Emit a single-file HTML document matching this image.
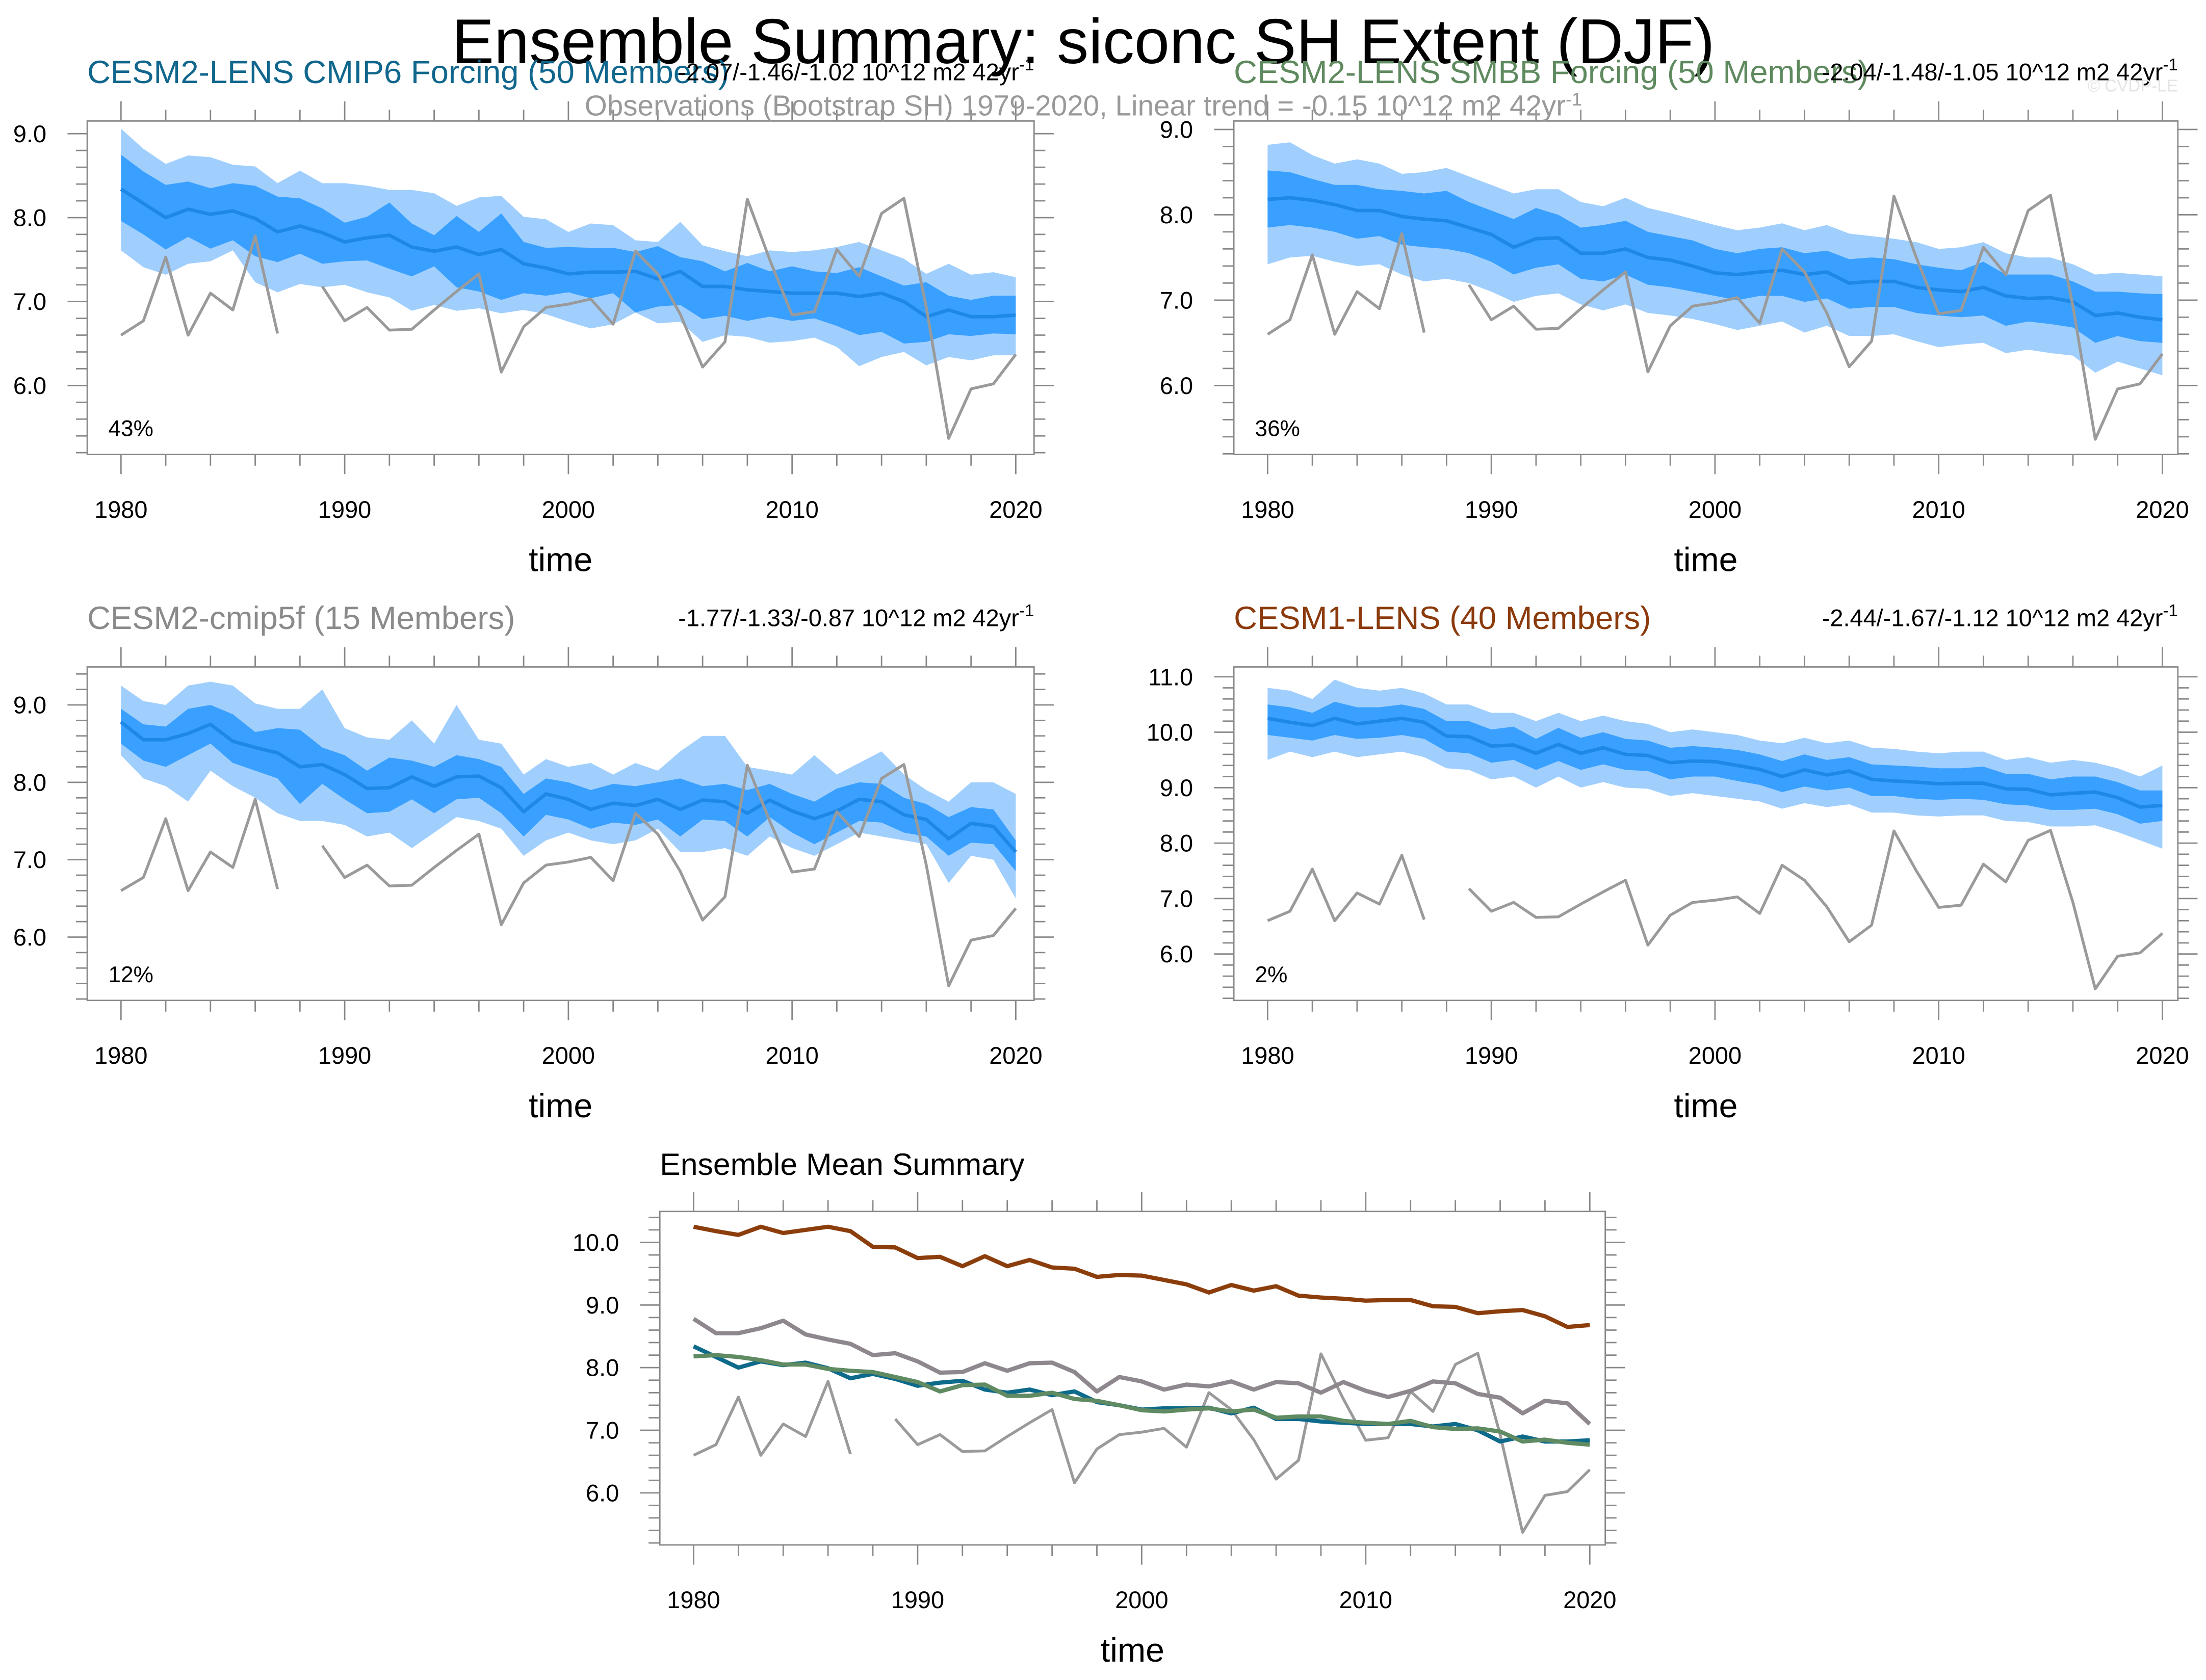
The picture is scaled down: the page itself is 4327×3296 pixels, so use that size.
<!DOCTYPE html>
<html><head><meta charset="utf-8"><style>html,body{margin:0;padding:0;background:#fff}svg{display:block}</style></head>
<body>
<svg id="chart" xmlns="http://www.w3.org/2000/svg" width="4327" height="3296" viewBox="0 0 1568 1194" preserveAspectRatio="none" font-family="Liberation Sans, sans-serif">
<rect width="1568" height="1194" fill="#fff"/>
<text x="770" y="45" font-size="45" text-anchor="middle" fill="#000">Ensemble Summary: siconc SH Extent (DJF)</text>
<g id="panels"></g>
<text x="770" y="82" font-size="20.5" text-anchor="middle" fill="#999">Observations (Bootstrap SH) 1979-2020, Linear trend = -0.15 10^12 m2 42yr<tspan dy="-7" font-size="13">-1</tspan></text>
<text x="1548" y="65" font-size="12" text-anchor="end" fill="#e4e4e4">© CVDP-LE</text>
</svg>
<script>
const years = [];
for (let y = 1980; y <= 2020; y++) years.push(y);
const obs = [6.6,6.77,7.53,6.6,7.1,6.9,7.78,6.62,null,7.18,
 6.77,6.93,6.66,6.67,6.9,7.12,7.33,6.16,6.7,6.93,
 6.97,7.03,6.73,7.6,7.33,6.85,6.22,6.52,8.22,7.5,
 6.84,6.88,7.62,7.3,8.05,8.23,6.93,5.37,5.96,6.02,6.37];
const p1Mean = [8.34,8.17,8.0,8.1,8.04,8.08,7.99,7.83,7.9,7.82,7.71,7.76,7.79,7.65,7.6,7.65,7.56,7.62,7.45,7.4,7.33,7.35,7.35,7.36,7.27,7.36,7.18,7.18,7.14,7.12,7.1,7.1,7.1,7.06,7.1,7.0,6.82,6.9,6.82,6.82,6.84];
const p1DarkHi = [8.75,8.55,8.39,8.43,8.35,8.41,8.38,8.25,8.23,8.11,7.94,8.01,8.18,7.93,7.79,8.02,7.83,8.05,7.71,7.64,7.65,7.64,7.64,7.59,7.66,7.53,7.48,7.36,7.46,7.36,7.42,7.36,7.34,7.41,7.3,7.19,7.23,7.07,7.02,7.07,7.07];
const p1DarkLo = [7.96,7.8,7.62,7.77,7.63,7.73,7.54,7.47,7.57,7.45,7.48,7.49,7.39,7.3,7.42,7.17,7.12,7.02,7.1,7.07,7.11,7.04,7.1,6.87,6.94,6.96,6.79,6.83,6.77,6.82,6.77,6.8,6.71,6.6,6.64,6.5,6.52,6.61,6.59,6.62,6.61];
const p1LightHi = [9.06,8.82,8.64,8.74,8.72,8.63,8.61,8.41,8.56,8.41,8.41,8.38,8.33,8.33,8.29,8.14,8.24,8.26,8.01,7.98,7.83,7.93,7.91,7.73,7.71,7.95,7.67,7.6,7.54,7.61,7.59,7.61,7.65,7.71,7.61,7.51,7.33,7.45,7.32,7.35,7.29];
const p1LightLo = [7.61,7.41,7.32,7.45,7.48,7.61,7.23,7.11,7.21,7.17,7.2,7.11,7.05,6.89,6.96,6.89,6.92,6.86,6.9,6.85,6.76,6.68,6.73,6.87,6.74,6.76,6.52,6.6,6.58,6.51,6.53,6.57,6.46,6.23,6.34,6.4,6.24,6.34,6.3,6.36,6.36];
const p2Mean = [8.18,8.2,8.17,8.12,8.05,8.05,7.98,7.95,7.93,7.85,7.77,7.62,7.72,7.73,7.55,7.55,7.6,7.5,7.47,7.4,7.32,7.3,7.33,7.35,7.3,7.33,7.2,7.22,7.22,7.15,7.12,7.1,7.15,7.05,7.02,7.03,6.98,6.82,6.85,6.8,6.77];
const p2DarkHi = [8.52,8.5,8.42,8.35,8.35,8.3,8.28,8.25,8.28,8.15,8.05,7.95,8.08,8.0,7.85,7.88,7.93,7.8,7.75,7.7,7.6,7.55,7.6,7.62,7.55,7.58,7.48,7.5,7.48,7.42,7.38,7.35,7.45,7.3,7.3,7.3,7.22,7.1,7.1,7.08,7.07];
const p2DarkLo = [7.85,7.88,7.85,7.8,7.72,7.75,7.65,7.62,7.6,7.55,7.45,7.3,7.38,7.42,7.25,7.22,7.3,7.18,7.15,7.1,7.05,7.0,7.05,7.05,6.98,7.02,6.9,6.92,6.92,6.85,6.82,6.8,6.82,6.7,6.75,6.72,6.68,6.5,6.58,6.52,6.5];
const p2LightHi = [8.82,8.85,8.7,8.6,8.65,8.6,8.48,8.5,8.55,8.45,8.35,8.25,8.3,8.3,8.15,8.1,8.2,8.08,8.02,7.95,7.88,7.82,7.85,7.9,7.82,7.88,7.78,7.75,7.72,7.68,7.6,7.62,7.68,7.55,7.5,7.5,7.42,7.3,7.32,7.3,7.28];
const p2LightLo = [7.42,7.5,7.52,7.45,7.4,7.42,7.3,7.22,7.25,7.2,7.1,6.98,7.05,7.08,6.95,6.88,6.95,6.85,6.82,6.78,6.72,6.65,6.7,6.75,6.62,6.7,6.58,6.58,6.6,6.52,6.45,6.48,6.5,6.38,6.42,6.38,6.35,6.15,6.28,6.2,6.12];
const p3Mean = [8.78,8.55,8.55,8.63,8.75,8.53,8.45,8.38,8.2,8.23,8.1,7.92,7.93,8.07,7.95,8.07,8.08,7.93,7.62,7.85,7.78,7.65,7.73,7.7,7.78,7.65,7.77,7.75,7.6,7.77,7.63,7.53,7.63,7.78,7.75,7.58,7.52,7.27,7.47,7.43,7.1];
const p3DarkHi = [8.95,8.75,8.72,8.95,9.0,8.88,8.65,8.7,8.68,8.45,8.35,8.15,8.32,8.28,8.2,8.35,8.3,8.2,7.85,8.05,8.0,7.9,7.98,7.95,8.0,8.05,7.95,7.98,7.9,7.98,7.85,7.75,7.92,8.0,7.98,7.8,7.72,7.55,7.68,7.65,7.25];
const p3DarkLo = [8.5,8.28,8.2,8.35,8.5,8.25,8.15,8.05,7.72,7.98,7.78,7.6,7.62,7.78,7.6,7.78,7.8,7.6,7.3,7.58,7.52,7.4,7.48,7.45,7.52,7.3,7.52,7.5,7.3,7.55,7.35,7.2,7.35,7.5,7.48,7.35,7.3,7.05,7.22,7.2,6.85];
const p3LightHi = [9.25,9.05,9.0,9.25,9.3,9.25,9.02,8.95,8.95,9.2,8.7,8.58,8.55,8.8,8.5,9.0,8.55,8.5,8.1,8.3,8.2,8.25,8.1,8.25,8.15,8.4,8.6,8.6,8.2,8.15,8.1,8.35,8.1,8.25,8.4,8.1,7.9,7.75,8.0,8.0,7.85];
const p3LightLo = [8.35,8.05,7.95,7.75,8.15,7.95,7.8,7.6,7.5,7.5,7.45,7.3,7.35,7.15,7.35,7.55,7.5,7.4,7.05,7.25,7.35,7.25,7.2,7.25,7.4,7.1,7.1,7.15,7.05,7.3,7.15,7.05,7.2,7.35,7.3,7.25,7.2,6.7,7.05,7.0,6.5];
const p4Mean = [10.25,10.18,10.12,10.25,10.15,10.2,10.25,10.18,9.93,9.92,9.75,9.77,9.62,9.78,9.62,9.72,9.6,9.58,9.45,9.48,9.47,9.4,9.33,9.2,9.32,9.23,9.3,9.15,9.12,9.1,9.07,9.08,9.08,8.98,8.97,8.87,8.9,8.92,8.82,8.65,8.68];
const p4DarkHi = [10.5,10.45,10.35,10.55,10.45,10.45,10.5,10.42,10.2,10.2,10.05,10.1,9.88,10.08,9.9,10.0,9.88,9.85,9.72,9.75,9.72,9.68,9.6,9.48,9.6,9.5,9.55,9.42,9.4,9.38,9.35,9.35,9.38,9.25,9.25,9.15,9.2,9.2,9.1,8.95,8.95];
const p4DarkLo = [9.95,9.9,9.85,9.95,9.88,9.9,9.95,9.88,9.65,9.62,9.45,9.5,9.32,9.48,9.32,9.42,9.32,9.3,9.15,9.2,9.2,9.12,9.05,8.92,9.02,8.95,9.0,8.85,8.85,8.8,8.78,8.8,8.78,8.7,8.68,8.6,8.6,8.62,8.52,8.35,8.4];
const p4LightHi = [10.8,10.75,10.6,10.95,10.8,10.75,10.8,10.7,10.5,10.5,10.35,10.35,10.2,10.35,10.2,10.3,10.2,10.15,10.0,10.05,10.0,9.95,9.85,9.8,9.9,9.8,9.85,9.72,9.7,9.65,9.62,9.65,9.65,9.5,9.55,9.45,9.5,9.45,9.35,9.2,9.4];
const p4LightLo = [9.5,9.65,9.55,9.65,9.55,9.6,9.65,9.55,9.35,9.32,9.15,9.2,9.0,9.2,9.0,9.1,9.0,8.98,8.85,8.9,8.85,8.8,8.75,8.62,8.72,8.65,8.7,8.55,8.55,8.5,8.48,8.5,8.5,8.4,8.38,8.3,8.3,8.32,8.2,8.05,7.9];
const xTickLabels = ['1980','1990','2000','2010','2020'];

const NS = 'http://www.w3.org/2000/svg';
const root = document.getElementById('panels');
function mk(tag, attrs, parent) {
  const e = document.createElementNS(NS, tag);
  for (const k in attrs) e.setAttribute(k, attrs[k]);
  (parent || root).appendChild(e);
  return e;
}
function linePath(vals, sx, sy) {
  let d = '', pen = false;
  vals.forEach((v, i) => {
    if (v === null) { pen = false; return; }
    d += (pen ? 'L' : 'M') + sx(years[i]).toFixed(2) + ',' + sy(v).toFixed(2);
    pen = true;
  });
  return d;
}
function bandPath(hi, lo, sx, sy) {
  let d = '';
  hi.forEach((v, i) => { d += (i ? 'L' : 'M') + sx(years[i]).toFixed(2) + ',' + sy(v).toFixed(2); });
  for (let i = lo.length - 1; i >= 0; i--) d += 'L' + sx(years[i]).toFixed(2) + ',' + sy(lo[i]).toFixed(2);
  return d + 'Z';
}
function panel(cfg) {
  const g = mk('g', {});
  
  
  const L = cfg.x0, R = cfg.x1, T = cfg.y0, B = cfg.y1;
  const sx = y => cfg.xa + (y - 1980) * (cfg.xb - cfg.xa) / 40;
  const sy = v => cfg.ya + (cfg.va - v) * (cfg.yb - cfg.ya) / (cfg.va - cfg.vb);
  if (cfg.bands) {
    const b1 = mk('path', { d: bandPath(cfg.bands[0], cfg.bands[1], sx, sy), fill: '#a0cffe' }, g);
    
    
    const b2 = mk('path', { d: bandPath(cfg.bands[2], cfg.bands[3], sx, sy), fill: '#3aa0ff' }, g);
    
    
    const m = mk('path', { d: linePath(cfg.bands[4], sx, sy), fill: 'none', stroke: '#1e88e8', 'stroke-width': 2.5, 'stroke-linejoin': 'round' }, g);
    
    
  }
  const o = mk('path', { d: linePath(obs, sx, sy), fill: 'none', stroke: '#9a9a9a', 'stroke-width': 2, 'stroke-linejoin': 'round' }, g);
  
  
  if (cfg.lines) cfg.lines.forEach(ln => {
    const p = mk('path', { d: linePath(ln.v, sx, sy), fill: 'none', stroke: ln.c, 'stroke-width': 3, 'stroke-linejoin': 'round' }, g);
    
    
  });
  const box = mk('rect', { x: L, y: T, width: R - L, height: B - T, fill: 'none', stroke: '#888', 'stroke-width': 1 }, g);
  
  
  for (let yr = 1980; yr <= 2020; yr += 2) {
    const major = yr % 10 === 0, len = major ? 14 : 8, x = sx(yr);
    mk('line', { x1: x, x2: x, y1: B, y2: B + len, stroke: '#888', 'stroke-width': 1 }, g);
    mk('line', { x1: x, x2: x, y1: T, y2: T - len, stroke: '#888', 'stroke-width': 1 }, g);
  }
  xTickLabels.forEach(lbl => {
    const t = mk('text', { x: sx(+lbl), y: B + 45, 'font-size': 17, 'text-anchor': 'middle', fill: '#000' }, g);
    t.textContent = lbl;
    
    
  });
  const vmin = cfg.vb + (B - cfg.yb) * -(cfg.va - cfg.vb) / (cfg.yb - cfg.ya);
  const vmax = cfg.va + (cfg.ya - T) * (cfg.va - cfg.vb) / (cfg.yb - cfg.ya);
  for (let k = Math.ceil(vmin * 5); k <= Math.floor(vmax * 5); k++) {
    const v = k / 5, y = sy(v), major = k % 5 === 0, len = major ? 14 : 8;
    mk('line', { x1: L, x2: L - len, y1: y, y2: y, stroke: '#888', 'stroke-width': 1 }, g);
    mk('line', { x1: R, x2: R + len, y1: y, y2: y, stroke: '#888', 'stroke-width': 1 }, g);
  }
  cfg.yLabels.forEach(v => {
    const t = mk('text', { x: L - 29, y: sy(v) + 6, 'font-size': 17, 'text-anchor': 'end', fill: '#000' }, g);
    t.textContent = v.toFixed(1);
    
    
  });
  const tl = mk('text', { x: (L + R) / 2, y: B + 83, 'font-size': 24, 'text-anchor': 'middle', fill: '#000' }, g);
  tl.textContent = 'time';
  
  
  const ti = mk('text', { x: L, y: cfg.titleY, 'font-size': cfg.titleSize || 23, fill: cfg.titleColor }, g);
  ti.textContent = cfg.title;
  
  
  if (cfg.trend) {
    const tr = mk('text', { x: R, y: cfg.titleY - 2, 'font-size': 17, 'text-anchor': 'end', fill: '#000' }, g);
    tr.innerHTML = cfg.trend + ' 10^12 m2 42yr<tspan dy="-7" font-size="12">-1</tspan>';
    
    
  }
  if (cfg.pct) {
    const pc = mk('text', { x: L + 15, y: B - 13, 'font-size': 16, fill: '#000' }, g);
    pc.textContent = cfg.pct;
    
    
  }
}
panel({ name: 'panel-cesm2-cmip6', x0: 62, x1: 735, y0: 86, y1: 323, xa: 86, xb: 722, ya: 95, yb: 274, va: 9, vb: 6,
  bands: [p1LightHi, p1LightLo, p1DarkHi, p1DarkLo, p1Mean], yLabels: [6, 7, 8, 9],
  title: 'CESM2-LENS CMIP6 Forcing (50 Members)', titleColor: '#10668c', titleY: 59, trend: '-2.07/-1.46/-1.02', pct: '43%' });
panel({ name: 'panel-cesm2-smbb', x0: 877, x1: 1548, y0: 86, y1: 323, xa: 901, xb: 1537, ya: 92, yb: 274, va: 9, vb: 6,
  bands: [p2LightHi, p2LightLo, p2DarkHi, p2DarkLo, p2Mean], yLabels: [6, 7, 8, 9],
  title: 'CESM2-LENS SMBB Forcing (50 Members)', titleColor: '#5f8a5f', titleY: 59, trend: '-2.04/-1.48/-1.05', pct: '36%' });
panel({ name: 'panel-cesm2-cmip5f', x0: 62, x1: 735, y0: 474, y1: 711, xa: 86, xb: 722, ya: 501, yb: 666, va: 9, vb: 6,
  bands: [p3LightHi, p3LightLo, p3DarkHi, p3DarkLo, p3Mean], yLabels: [6, 7, 8, 9],
  title: 'CESM2-cmip5f (15 Members)', titleColor: '#8a8a8a', titleY: 447, trend: '-1.77/-1.33/-0.87', pct: '12%' });
panel({ name: 'panel-cesm1-lens', x0: 877, x1: 1548, y0: 474, y1: 711, xa: 901, xb: 1537, ya: 481, yb: 678, va: 11, vb: 6,
  bands: [p4LightHi, p4LightLo, p4DarkHi, p4DarkLo, p4Mean], yLabels: [6, 7, 8, 9, 10, 11],
  title: 'CESM1-LENS (40 Members)', titleColor: '#8b3a0c', titleY: 447, trend: '-2.44/-1.67/-1.12', pct: '2%' });
panel({ name: 'panel-ensemble-mean-summary', x0: 469, x1: 1141, y0: 861, y1: 1098, xa: 493, xb: 1130, ya: 883, yb: 1061, va: 10, vb: 6,
  lines: [{ v: p4Mean, c: '#8b3e0c', n: 'cesm1-mean-line' }, { v: p3Mean, c: '#8e888e', n: 'cmip5f-mean-line' },
          { v: p1Mean, c: '#0e6a8a', n: 'cmip6-mean-line' }, { v: p2Mean, c: '#5f8a62', n: 'smbb-mean-line' }],
  yLabels: [6, 7, 8, 9, 10], title: 'Ensemble Mean Summary', titleColor: '#000', titleY: 835, titleSize: 22 });
</script>
</body></html>
